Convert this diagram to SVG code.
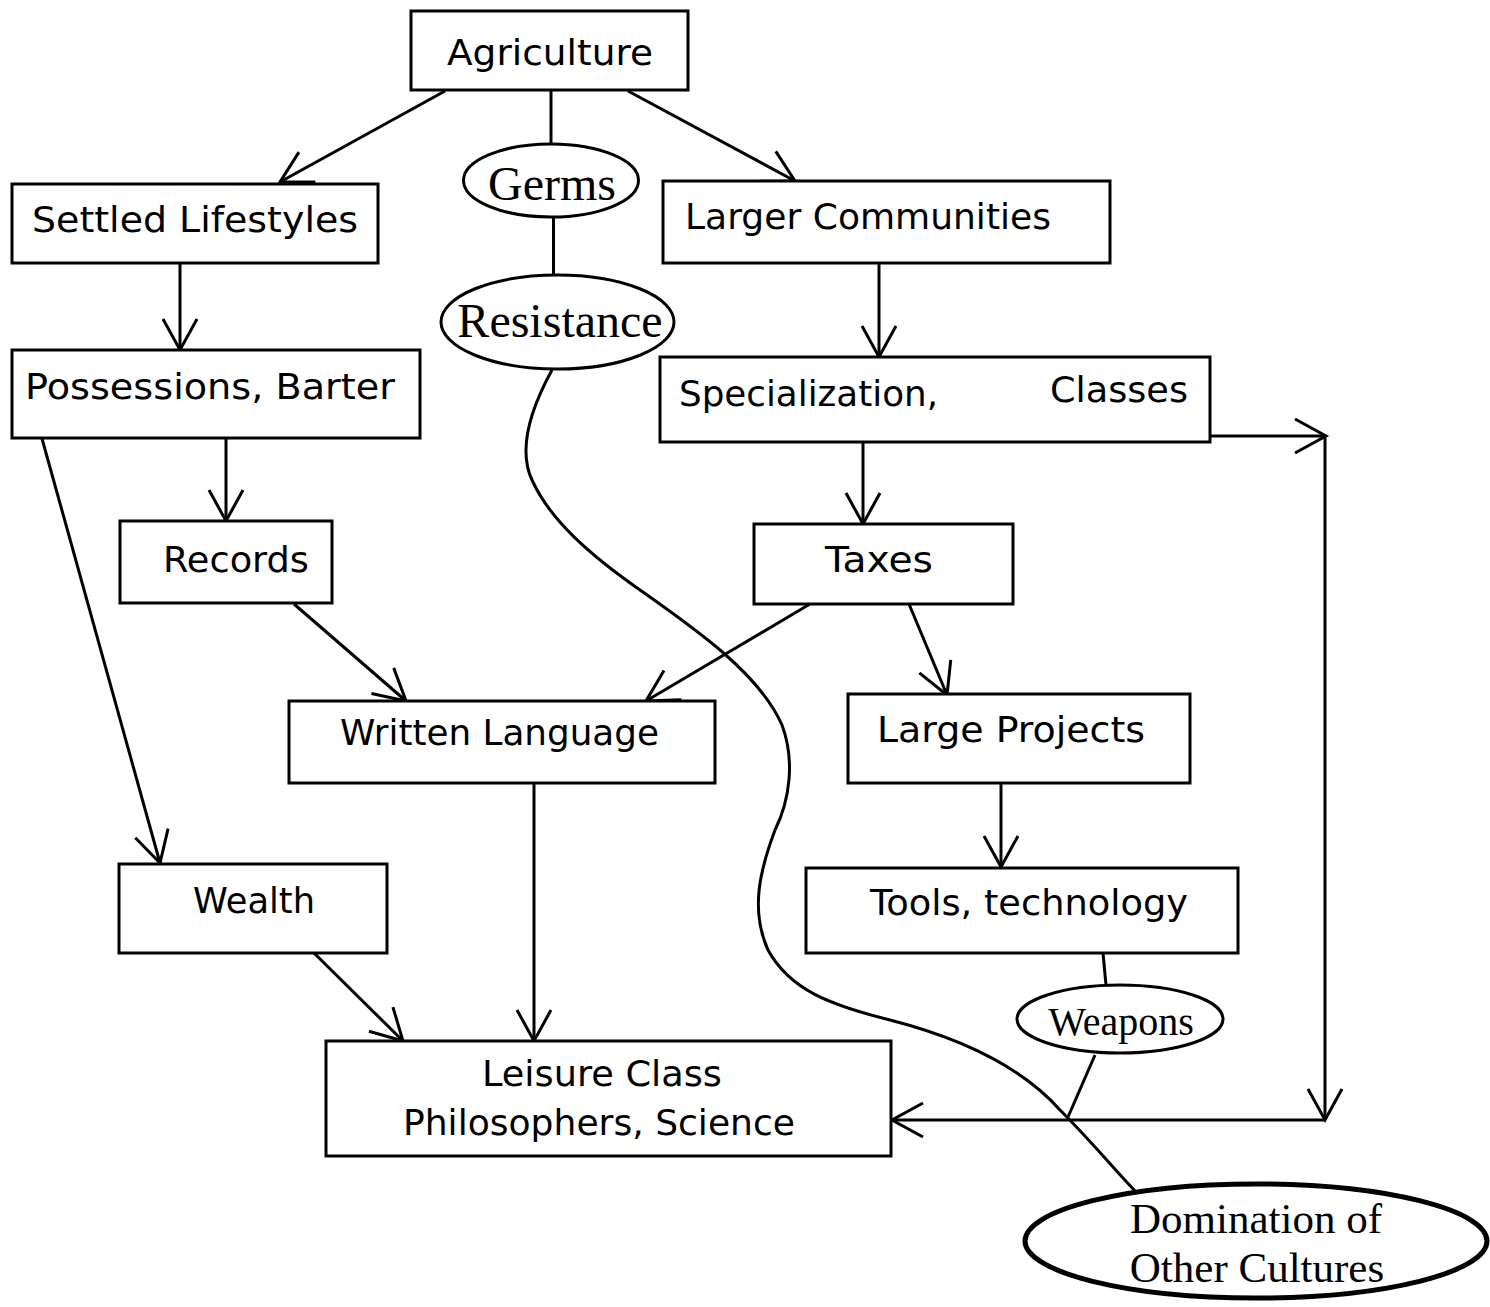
<svg xmlns="http://www.w3.org/2000/svg" width="1490" height="1307" viewBox="0 0 1490 1307">
<style>
.box{fill:#fff;stroke:#000;stroke-width:3}
.ell{fill:#fff;stroke:#000;stroke-width:3}
.t{font-family:"DejaVu Sans","Liberation Sans",sans-serif;font-size:36px;fill:#000}
.s{font-family:"Liberation Serif","Times New Roman",serif;fill:#000}
.c{fill:none;stroke:#000;stroke-width:3}
.a{marker-end:url(#arr)}
</style>
<defs>
<marker id="arr" markerUnits="userSpaceOnUse" viewBox="-40 -25 45 50" markerWidth="45" markerHeight="50" refX="0" refY="0" orient="auto" overflow="visible">
<path d="M-31,-17 L0,0 L-31,17" fill="none" stroke="#000" stroke-width="3"/>
</marker>
</defs>
<rect width="1490" height="1307" fill="#fff"/>
<g id="connectors">
<line class="c a" x1="445" y1="91" x2="280" y2="182"/>
<line class="c a" x1="628" y1="91" x2="795" y2="181"/>
<line class="c" x1="551" y1="90" x2="551" y2="144"/>
<line class="c" x1="553.5" y1="217" x2="553.5" y2="275"/>
<line class="c a" x1="180" y1="263" x2="180" y2="350"/>
<line class="c a" x1="879" y1="263" x2="879" y2="357"/>
<line class="c a" x1="226" y1="438" x2="226" y2="521"/>
<line class="c a" x1="41" y1="435" x2="160" y2="863"/>
<line class="c a" x1="863" y1="442" x2="863" y2="524"/>
<line class="c a" x1="1210" y1="436" x2="1326" y2="436"/>
<line class="c a" x1="1325" y1="436" x2="1325" y2="1120"/>
<line class="c a" x1="1325" y1="1120" x2="892" y2="1120"/>
<line class="c a" x1="294" y1="604" x2="406" y2="701"/>
<line class="c a" x1="810" y1="604" x2="646" y2="701"/>
<line class="c a" x1="909" y1="604" x2="947" y2="695"/>
<line class="c a" x1="1001" y1="783" x2="1001" y2="867"/>
<line class="c a" x1="534" y1="783" x2="534" y2="1041"/>
<line class="c a" x1="314" y1="953" x2="403" y2="1041"/>
<line class="c" x1="1103" y1="953" x2="1106" y2="985"/>
<line class="c" x1="1095" y1="1055" x2="1068" y2="1117"/>
<path class="c" d="M552,370 C530,410 518,450 532,480 C550,520 590,555 640,590 C700,632 760,675 782,725 C795,760 790,800 775,830 C760,870 750,910 768,950 C790,990 830,1005 890,1020 C960,1038 1020,1065 1060,1110 C1090,1140 1115,1170 1137,1193"/>
</g>
<g id="agriculture"><rect class="box" x="411" y="11" width="277" height="79"/><text class="t" x="447" y="65" textLength="206" lengthAdjust="spacingAndGlyphs">Agriculture</text></g>
<g id="settled"><rect class="box" x="12" y="184" width="366" height="79"/><text class="t" x="32" y="232" textLength="326" lengthAdjust="spacingAndGlyphs">Settled Lifestyles</text></g>
<g id="germs"><ellipse class="ell" cx="551" cy="180.5" rx="87.5" ry="36.5"/><text class="s" x="552" y="200" font-size="48" text-anchor="middle">Germs</text></g>
<g id="resistance"><ellipse class="ell" cx="557.5" cy="322" rx="116.5" ry="47"/><text class="s" x="560" y="337" font-size="48" text-anchor="middle">Resistance</text></g>
<g id="larger"><rect class="box" x="663" y="181" width="447" height="82"/><text class="t" x="685" y="229" textLength="366" lengthAdjust="spacingAndGlyphs">Larger Communities</text></g>
<g id="possessions"><rect class="box" x="12" y="350" width="408" height="88"/><text class="t" x="25" y="399" textLength="370" lengthAdjust="spacingAndGlyphs">Possessions, Barter</text></g>
<g id="specialization"><rect class="box" x="660" y="357" width="550" height="85"/><text class="t" x="679" y="406" textLength="259" lengthAdjust="spacingAndGlyphs">Specialization,</text><text class="t" x="1050" y="402" textLength="138" lengthAdjust="spacingAndGlyphs">Classes</text></g>
<g id="records"><rect class="box" x="120" y="521" width="212" height="82"/><text class="t" x="163" y="572" textLength="146" lengthAdjust="spacingAndGlyphs">Records</text></g>
<g id="taxes"><rect class="box" x="754" y="524" width="259" height="80"/><text class="t" x="825" y="572" textLength="108" lengthAdjust="spacingAndGlyphs">Taxes</text></g>
<g id="written"><rect class="box" x="289" y="701" width="426" height="82"/><text class="t" x="340" y="745" textLength="319" lengthAdjust="spacingAndGlyphs">Written Language</text></g>
<g id="large"><rect class="box" x="848" y="694" width="342" height="89"/><text class="t" x="877" y="742" textLength="268" lengthAdjust="spacingAndGlyphs">Large Projects</text></g>
<g id="wealth"><rect class="box" x="119" y="864" width="268" height="89"/><text class="t" x="193" y="913" textLength="122" lengthAdjust="spacingAndGlyphs">Wealth</text></g>
<g id="tools"><rect class="box" x="806" y="868" width="432" height="85"/><text class="t" x="870" y="915" textLength="318" lengthAdjust="spacingAndGlyphs">Tools, technology</text></g>
<g id="weapons"><ellipse class="ell" cx="1120" cy="1019" rx="103" ry="34"/><text class="s" x="1121" y="1035" font-size="40" text-anchor="middle">Weapons</text></g>
<g id="leisure"><rect class="box" x="326" y="1041" width="565" height="115"/><text class="t" x="482" y="1086" textLength="240" lengthAdjust="spacingAndGlyphs">Leisure Class</text><text class="t" x="403" y="1135" textLength="392" lengthAdjust="spacingAndGlyphs">Philosophers, Science</text></g>
<g id="domination"><ellipse cx="1256" cy="1241" rx="231" ry="57" fill="#fff" stroke="#000" stroke-width="5"/><text class="s" x="1256" y="1233" font-size="43" text-anchor="middle">Domination of</text><text class="s" x="1257" y="1282" font-size="43" text-anchor="middle">Other Cultures</text></g>
</svg>
